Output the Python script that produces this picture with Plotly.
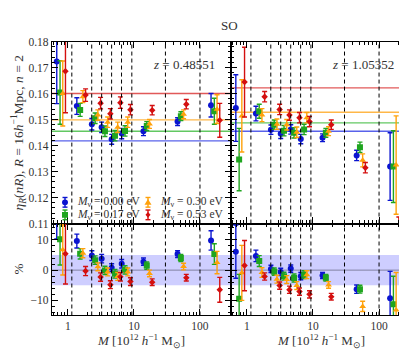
import plotly.graph_objects as go

# halo mass of each bin (position of the M_nu = 0.00 eV points), 10^12 h^-1 Msun
mass = [0.68, 1.37, 2.31, 3.25, 4.61, 6.54, 13.96, 45.8, 147.0]
bin_edges = [1.15, 2.3, 3.25, 4.6, 6.5, 9.3, 30.0, 100.0]
nu_labels = ["0.00", "0.17", "0.30", "0.53"]
redshifts = ["0.48551", "1.05352"]

# z = 0.48551 : eta_R(nR) with errors, and the constant reference levels
level_z1 = [0.1418, 0.1455, 0.1499, 0.1600]
eta_z1_000 = [0.1723, 0.1552, 0.1482, 0.1470, 0.1424, 0.1446, 0.1455, 0.1492, 0.1555]
eta_z1_017 = [0.1604, 0.1537, 0.1505, 0.1455, 0.1438, 0.1456, 0.1475, 0.1513, 0.1532]
eta_z1_030 = [0.1600, 0.1588, 0.1517, 0.1490, 0.1470, 0.1490, 0.1483, 0.1520, 0.1540]
eta_z1_053 = [0.1686, 0.1594, 0.1563, 0.1522, 0.1565, 0.1538, 0.1536, 0.1559, 0.1497]
err_z1_000 = [0.0162, 0.0032, 0.0022, 0.0020, 0.0019, 0.0020, 0.0017, 0.0015, 0.0045]
err_z1_017 = [0.0122, 0.0025, 0.0020, 0.0020, 0.0020, 0.0020, 0.0017, 0.0017, 0.0050]
err_z1_030 = [0.0125, 0.0023, 0.0020, 0.0020, 0.0020, 0.0020, 0.0017, 0.0017, 0.0055]
err_z1_053 = [0.0160, 0.0024, 0.0022, 0.0020, 0.0022, 0.0020, 0.0018, 0.0018, 0.0065]

# z = 0.48551 : percent deviation from the reference level
pct_z1_000 = [21.6, 9.6, 4.8, 3.8, 0.8, 2.1, 2.8, 5.3, 9.8]
pct_z1_017 = [10.2, 5.4, 3.3, -0.1, -1.2, 0.1, 1.5, 4.0, 5.3]
pct_z1_030 = [6.7, 5.6, 1.1, -0.6, -2.1, -0.6, -1.1, 1.2, 2.5]
pct_z1_053 = [5.4, -0.3, -2.3, -4.8, -2.2, -3.8, -4.0, -2.5, -6.5]
perr_z1_000 = [11.3, 2.3, 1.6, 1.4, 1.3, 1.4, 1.2, 1.1, 3.2]
perr_z1_017 = [8.5, 1.7, 1.4, 1.4, 1.4, 1.4, 1.2, 1.2, 3.4]
perr_z1_030 = [8.3, 1.5, 1.3, 1.3, 1.3, 1.3, 1.1, 1.1, 3.7]
perr_z1_053 = [10.0, 1.5, 1.4, 1.3, 1.4, 1.3, 1.1, 1.1, 4.1]

# z = 1.05352
level_z2 = [0.1455, 0.1487, 0.1528, 0.1622]
eta_z2_000 = [0.1544, 0.1523, 0.1461, 0.1445, 0.1462, 0.1425, 0.1430, 0.1362, 0.1319]
eta_z2_017 = [0.1346, 0.1532, 0.1480, 0.1457, 0.1449, 0.1462, 0.1449, 0.1393, 0.1319]
eta_z2_030 = [0.1514, 0.1517, 0.1482, 0.1480, 0.1451, 0.1507, 0.1455, 0.1343, 0.1325]
eta_z2_053 = [0.1644, 0.1588, 0.1539, 0.1517, 0.1507, 0.1492, 0.1480, 0.1315, 0.0930]
err_z2_000 = [0.0128, 0.0028, 0.0018, 0.0018, 0.0018, 0.0018, 0.0015, 0.0020, 0.0130]
err_z2_017 = [0.0120, 0.0027, 0.0018, 0.0020, 0.0020, 0.0020, 0.0017, 0.0020, 0.0138]
err_z2_030 = [0.0139, 0.0025, 0.0020, 0.0020, 0.0020, 0.0020, 0.0017, 0.0025, 0.0189]
err_z2_053 = [0.0134, 0.0020, 0.0020, 0.0020, 0.0020, 0.0020, 0.0018, 0.0020, 0.0195]

pct_z2_000 = [6.1, 4.7, 0.4, -0.6, 0.5, -2.0, -1.8, -6.3, -9.3]
pct_z2_017 = [-9.5, 3.0, -0.5, -2.0, -2.6, -1.5, -2.5, -6.3, -11.3]
pct_z2_030 = [-0.9, -0.8, -3.0, -3.1, -5.1, -1.5, -4.9, -12.0, -13.2]
pct_z2_053 = [1.5, -2.1, -5.1, -6.5, -7.1, -8.0, -8.8, -18.9, -42.6]
perr_z2_000 = [8.8, 1.9, 1.2, 1.2, 1.2, 1.2, 1.0, 1.4, 8.9]
perr_z2_017 = [8.1, 1.8, 1.2, 1.3, 1.3, 1.3, 1.1, 1.3, 9.3]
perr_z2_030 = [9.1, 1.6, 1.3, 1.3, 1.3, 1.3, 1.1, 1.7, 12.4]
perr_z2_053 = [8.3, 1.2, 1.2, 1.2, 1.2, 1.2, 1.1, 1.2, 12.0]

eta = [[eta_z1_000, eta_z1_017, eta_z1_030, eta_z1_053],
       [eta_z2_000, eta_z2_017, eta_z2_030, eta_z2_053]]
eta_err = [[err_z1_000, err_z1_017, err_z1_030, err_z1_053],
           [err_z2_000, err_z2_017, err_z2_030, err_z2_053]]
pct = [[pct_z1_000, pct_z1_017, pct_z1_030, pct_z1_053],
       [pct_z2_000, pct_z2_017, pct_z2_030, pct_z2_053]]
pct_err = [[perr_z1_000, perr_z1_017, perr_z1_030, perr_z1_053],
           [perr_z2_000, perr_z2_017, perr_z2_030, perr_z2_053]]
levels = [level_z1, level_z2]

# styling
W, H = 407, 350
colors = ["#0a14d0", "#1fa51f", "#ffa10a", "#d40f0f"]
line_colors = ["rgba(60,70,230,0.85)", "rgba(70,190,70,0.85)", "rgba(255,170,40,0.85)", "rgba(220,60,60,0.85)"]
symbols = ["circle", "square", "triangle-up", "diamond"]
msize = [6, 6, 6, 5]
dodge = [1.0, 10 ** 0.05, 10 ** 0.091, 10 ** 0.132]
FONT = "Liberation Serif, Times New Roman, serif"

xl = [0.108, 0.548]
xr = [0.548, 0.988]
ytop = [0.380, 0.9186]
ybot = [0.108, 0.380]

fig = go.Figure()

axes = [("x", "y", "x3", "y3"), ("x2", "y2", "x4", "y4")]
for iz in range(2):
    xa_t, ya_t, xa_b, ya_b = axes[iz]
    for k in range(4):
        xs = [m * dodge[k] for m in mass]
        fig.add_trace(go.Scatter(
            x=xs, y=eta[iz][k], mode="markers", xaxis=xa_t, yaxis=ya_t,
            marker=dict(color=colors[k], symbol=symbols[k], size=msize[k], line=dict(width=0)),
            error_y=dict(type="data", array=eta_err[iz][k], color=colors[k], thickness=1.4, width=2.5),
            name="M_nu = %s eV" % nu_labels[k], showlegend=False))
        fig.add_trace(go.Scatter(
            x=xs, y=pct[iz][k], mode="markers", xaxis=xa_b, yaxis=ya_b,
            marker=dict(color=colors[k], symbol=symbols[k], size=msize[k], line=dict(width=0)),
            error_y=dict(type="data", array=pct_err[iz][k], color=colors[k], thickness=1.4, width=2.5),
            showlegend=False))
        fig.add_shape(type="line", xref=xa_t + " domain", yref=ya_t, x0=0, x1=1,
                      y0=levels[iz][k], y1=levels[iz][k], line=dict(color=line_colors[k], width=1.3),
                      layer="below")
    # shaded +-5 per cent band and zero line
    fig.add_shape(type="rect", xref=xa_b + " domain", yref=ya_b, x0=0, x1=1, y0=-5, y1=5,
                  fillcolor="rgba(60,60,255,0.25)", line=dict(width=0), layer="below")
    fig.add_shape(type="line", xref=xa_b + " domain", yref=ya_b, x0=0, x1=1, y0=0, y1=0,
                  line=dict(color="rgba(110,110,140,0.8)", width=1), layer="below")
    for xa, ya in [(xa_t, ya_t), (xa_b, ya_b)]:
        for e in bin_edges:
            fig.add_shape(type="line", xref=xa, yref=ya + " domain", x0=e, x1=e, y0=0, y1=1,
                          line=dict(color="black", width=1, dash="4px,3px"))
    fig.add_annotation(text="<i>z</i> = " + redshifts[iz], xref=xa_t + " domain", yref=ya_t + " domain",
                       x=0.92, y=0.875, xanchor="right", yanchor="middle", showarrow=False,
                       font=dict(family=FONT, size=13, color="#333"))


# legend drawn by hand (matplotlib style: 2 columns, errorbar keys)
def px(x):
    return x / W


def py(y):
    return 1 - y / H


legend_slots = [(57, 195), (57, 208), (140, 195), (140, 208)]  # pixel centres of the keys
for k, (cx, cy) in enumerate(legend_slots):
    c = colors[k]
    fig.add_shape(type="line", xref="paper", yref="paper", x0=px(cx), x1=px(cx), y0=py(cy - 5), y1=py(cy + 5),
                  line=dict(color=c, width=1.4))
    for yy in (cy - 5, cy + 5):
        fig.add_shape(type="line", xref="paper", yref="paper", x0=px(cx - 2.5), x1=px(cx + 2.5),
                      y0=py(yy), y1=py(yy), line=dict(color=c, width=1.4))
    r = 3
    if symbols[k] == "circle":
        fig.add_shape(type="circle", xref="paper", yref="paper", x0=px(cx - r), x1=px(cx + r),
                      y0=py(cy + r), y1=py(cy - r), fillcolor=c, line=dict(width=0))
    elif symbols[k] == "square":
        fig.add_shape(type="rect", xref="paper", yref="paper", x0=px(cx - r), x1=px(cx + r),
                      y0=py(cy + r), y1=py(cy - r), fillcolor=c, line=dict(width=0))
    elif symbols[k] == "triangle-up":
        path = "M %f,%f L %f,%f L %f,%f Z" % (px(cx - r - 0.5), py(cy + r - 0.5), px(cx + r + 0.5), py(cy + r - 0.5),
                                              px(cx), py(cy - r - 0.5))
        fig.add_shape(type="path", xref="paper", yref="paper", path=path, fillcolor=c, line=dict(width=0))
    else:
        path = "M %f,%f L %f,%f L %f,%f L %f,%f Z" % (px(cx), py(cy - r), px(cx + r - 0.5), py(cy),
                                                      px(cx), py(cy + r), px(cx - r + 0.5), py(cy))
        fig.add_shape(type="path", xref="paper", yref="paper", path=path, fillcolor=c, line=dict(width=0))
    fig.add_annotation(text="<i>M</i><sub>ν</sub> = %s eV" % nu_labels[k], xref="paper", yref="paper",
                       x=px(cx + 10), y=py(cy), xanchor="left", yanchor="middle", showarrow=False,
                       font=dict(family=FONT, size=11.5, color="#333"))

minor_x = [0.6, 0.7, 0.8, 0.9, 2, 3, 4, 5, 6, 7, 8, 9, 20, 30, 40, 50, 60, 70, 80, 90, 200]
base = dict(showline=True, linecolor="black", linewidth=1.2, mirror="allticks", ticks="inside",
            ticklen=6, tickwidth=1, tickcolor="black", showgrid=False, zeroline=False,
            tickfont=dict(family=FONT, size=11.5, color="#333"))
xbase = dict(base, type="log", range=[-0.24, 2.47], tickvals=[1, 10, 100], ticktext=["1", "10", "100"],
             minor=dict(tickvals=minor_x, ticks="inside", ticklen=3, tickcolor="black", tickwidth=1))
ytop_ax = dict(base, range=[0.11, 0.18], tick0=0.11, dtick=0.01, tickformat=".2f",
               minor=dict(dtick=0.002, tick0=0.11, ticks="inside", ticklen=3, tickcolor="black"))
ybot_ax = dict(base, range=[-15, 15.4], tickvals=[-10, 0, 10], ticktext=["−10", "0", "10"],
               minor=dict(dtick=2, tick0=0, ticks="inside", ticklen=3, tickcolor="black"))

fig.update_layout(
    width=W, height=H, margin=dict(l=0, r=0, t=0, b=0),
    plot_bgcolor="white", paper_bgcolor="white",
    font=dict(family=FONT, size=11, color="#333"),
    xaxis=dict(xbase, domain=xl, anchor="y", showticklabels=False),
    xaxis2=dict(xbase, domain=xr, anchor="y2", showticklabels=False),
    xaxis3=dict(xbase, domain=xl, anchor="y3"),
    xaxis4=dict(xbase, domain=xr, anchor="y4"),
    yaxis=dict(ytop_ax, domain=ytop, anchor="x"),
    yaxis2=dict(ytop_ax, domain=ytop, anchor="x2", showticklabels=False),
    yaxis3=dict(ybot_ax, domain=ybot, anchor="x3"),
    yaxis4=dict(ybot_ax, domain=ybot, anchor="x4", showticklabels=False),
    showlegend=False,
)

xlabel = "<i>M</i> [10<sup>12</sup> <i>h</i><sup>−1</sup> M<sub>⊙</sub>]"
for dom in (xl, xr):
    fig.add_annotation(text=xlabel, xref="paper", yref="paper", x=(dom[0] + dom[1]) / 2, y=py(339),
                       xanchor="center", yanchor="middle", showarrow=False,
                       font=dict(family=FONT, size=13, color="#333"))
fig.add_annotation(text="SO", xref="paper", yref="paper", x=px(222), y=py(12), xanchor="center",
                   yanchor="middle", showarrow=False, font=dict(family=FONT, size=13, color="#333"))
fig.add_annotation(text="<i>η</i><sub><i>R</i></sub>(<i>nR</i>), <i>R</i> = 16<i>h</i><sup>−1</sup>Mpc, <i>n</i> = 2",
                   xref="paper", yref="paper", x=px(11), y=(ytop[0] + ytop[1]) / 2, textangle=-90,
                   xanchor="center", yanchor="middle",
                   showarrow=False, font=dict(family=FONT, size=13.5, color="#333"))
fig.add_annotation(text="%", xref="paper", yref="paper", x=px(11), y=(ybot[0] + ybot[1]) / 2,
                   textangle=-90, xanchor="center", yanchor="middle",
                   showarrow=False, font=dict(family=FONT, size=13, color="#333"))

fig.write_html("out.html")
